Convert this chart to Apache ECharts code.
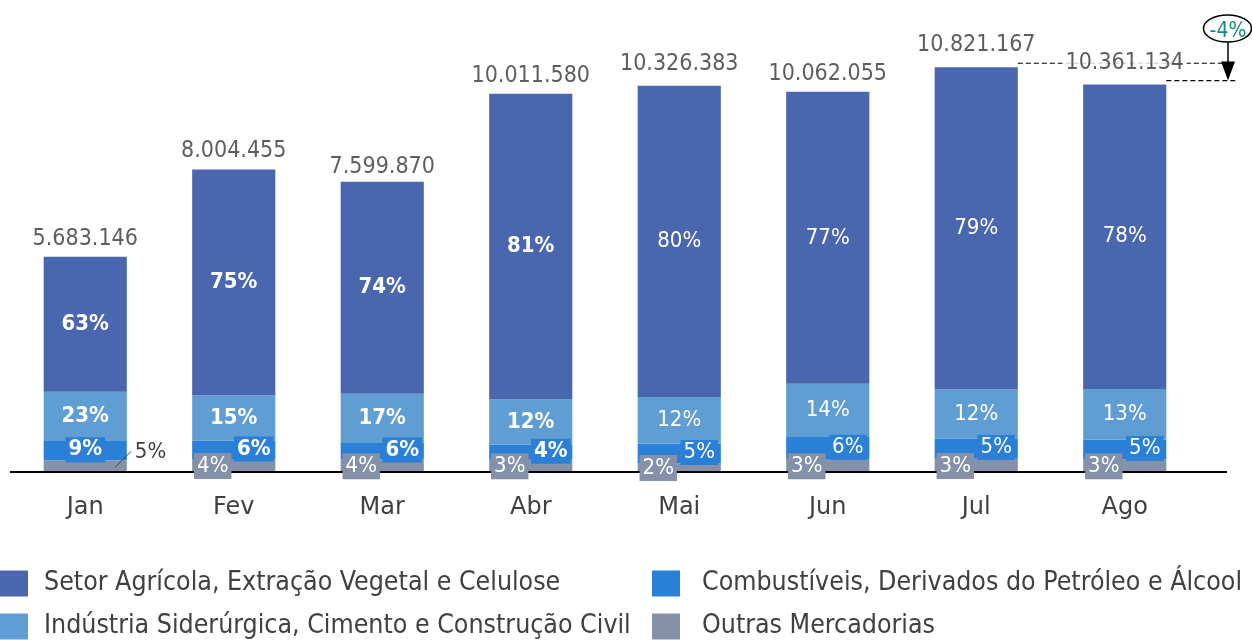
<!DOCTYPE html>
<html>
<head>
<meta charset="utf-8">
<script src="https://cdn.jsdelivr.net/npm/echarts@6/dist/echarts.min.js"></script>
<style>
  html, body { margin: 0; padding: 0; background: #fff; }
  #main { width: 1252px; height: 640px; }
</style>
</head>
<body>
<div id="main"></div>
<script>
const months = ['Jan', 'Fev', 'Mar', 'Abr', 'Mai', 'Jun', 'Jul', 'Ago'];
const totals = [5683146, 8004455, 7599870, 10011580, 10326383, 10062055, 10821167, 10361134];
// shares (%) per month
const setorPct = [63, 75, 74, 81, 80, 77, 79, 78];
const industriaPct = [23, 15, 17, 12, 12, 14, 12, 13];
const combustPct = [9, 6, 6, 4, 5, 6, 5, 5];
const outrasPct = [5, 4, 4, 3, 2, 3, 3, 3];
const boldMonths = [true, true, true, true, false, false, false, false];
const variation = '-4%';

const names = {
  setor: 'Setor Agrícola, Extração Vegetal e Celulose',
  industria: 'Indústria Siderúrgica, Cimento e Construção Civil',
  combust: 'Combustíveis, Derivados do Petróleo e Álcool',
  outras: 'Outras Mercadorias'
};
const colors = { setor: '#4a66ae', industria: '#5f9dd2', combust: '#2a7fd6', outras: '#8591a8' };
const FONT = '"DejaVu Sans Condensed", "DejaVu Sans"';

const fmtTotal = v => String(v).replace(/\B(?=(\d{3})+(?!\d))/g, '.');

function segData(pct) {
  return pct.map((p, i) => ({
    value: totals[i] * p / 100,
    label: { fontWeight: boldMonths[i] ? 'bold' : 'normal' }
  }));
}

const legendBase = {
  orient: 'vertical', top: 570, padding: 0,
  icon: 'rect', itemWidth: 28, itemHeight: 26, itemGap: 16
};

const chart = echarts.init(document.getElementById('main'));

const option = {
  animation: false,
  grid: { left: 11, right: 53, top: 0, bottom: 169, containLabel: false },
  legend: [
    Object.assign({}, legendBase, {
      data: [names.setor, names.industria], left: 0,
      textStyle: { fontFamily: FONT, fontSize: 26.5, color: '#404040', padding: [0, 0, 0, 11] }
    }),
    Object.assign({}, legendBase, {
      data: [names.combust, names.outras], left: 652,
      textStyle: { fontFamily: FONT, fontSize: 26.5, color: '#404040', padding: [0, 0, 0, 17] }
    })
  ],
  xAxis: {
    type: 'category',
    data: months,
    axisLine: { show: false },
    axisTick: { show: false },
    axisLabel: { fontFamily: 'DejaVu Sans', fontSize: 24, color: '#404040', margin: 25 }
  },
  yAxis: {
    type: 'value', show: false, min: 0, max: 12500000,
    splitLine: { show: false }
  },
  series: [
    {
      name: names.outras, type: 'bar', stack: 't', barWidth: '56%',
      itemStyle: { color: colors.outras },
      data: outrasPct.map((p, i) => {
        const d = { value: totals[i] * p / 100 };
        if (i === 0) {
          d.label = {
            position: 'right', distance: 5, offset: [0, -13],
            color: '#404040', backgroundColor: 'transparent'
          };
        }
        return d;
      }),
      label: {
        show: true, position: 'inside', offset: [-21, 1],
        formatter: p => outrasPct[p.dataIndex] + '%',
        fontFamily: FONT, fontSize: 22, color: '#fff',
        backgroundColor: colors.outras, padding: [3, 3, 1, 3]
      }
    },
    {
      name: names.combust, type: 'bar', stack: 't',
      itemStyle: { color: colors.combust },
      data: segData(combustPct).map((d, i) => {
        if (i === 0) d.label.offset = [0, -1];
        return d;
      }),
      label: {
        show: true, position: 'inside', offset: [20, -1],
        formatter: p => combustPct[p.dataIndex] + '%',
        fontFamily: FONT, fontSize: 22, color: '#fff',
        backgroundColor: colors.combust, padding: [2, 3, 1, 3]
      }
    },
    {
      name: names.industria, type: 'bar', stack: 't',
      itemStyle: { color: colors.industria },
      data: segData(industriaPct),
      label: {
        show: true, position: 'inside',
        formatter: p => industriaPct[p.dataIndex] + '%',
        fontFamily: FONT, fontSize: 22, color: '#fff'
      }
    },
    {
      name: names.setor, type: 'bar', stack: 't',
      itemStyle: { color: colors.setor },
      data: segData(setorPct),
      label: {
        show: true, position: 'inside',
        formatter: p => setorPct[p.dataIndex] + '%',
        fontFamily: FONT, fontSize: 22, color: '#fff'
      }
    },
    {
      name: 'Total', type: 'scatter', symbolSize: 1,
      itemStyle: { color: 'rgba(0,0,0,0)' },
      data: totals,
      z: 5,
      label: {
        show: true, position: 'top', distance: 6,
        formatter: p => fmtTotal(p.value),
        fontFamily: FONT, fontSize: 23, color: '#353535',
        backgroundColor: '#fff', padding: [0, 3]
      }
    }
  ]
};

chart.setOption(option);

// axis line, leader line and variation annotation
const p0 = chart.convertToPixel({ gridIndex: 0 }, [0, 0]);
const p1 = chart.convertToPixel({ gridIndex: 0 }, [1, 0]);
const halfBar = (p1[0] - p0[0]) * 0.56 / 2;
const baseY = p0[1];
const janOut = chart.convertToPixel({ gridIndex: 0 }, [0, totals[0] * outrasPct[0] / 100]);
const jul = chart.convertToPixel({ gridIndex: 0 }, [6, totals[6]]);
const ago = chart.convertToPixel({ gridIndex: 0 }, [7, totals[7]]);
const ax = 1228;
const dash = { stroke: '#000', lineWidth: 1.2, lineDash: [5, 3] };

chart.setOption({
  graphic: [
    { type: 'line', z: 1, shape: { x1: 10, y1: baseY + 1, x2: 1227, y2: baseY + 1 }, style: { stroke: '#000', lineWidth: 2 } },
    { type: 'line', z: 10, shape: { x1: p0[0] + 30, y1: baseY - 4, x2: p0[0] + 46, y2: janOut[1] - 9 }, style: { stroke: '#404040', lineWidth: 1 } },
    { type: 'line', z: 0, shape: { x1: jul[0] + halfBar, y1: jul[1], x2: ax - 6, y2: jul[1] }, style: dash },
    { type: 'line', z: 0, shape: { x1: ago[0] + halfBar, y1: ago[1], x2: ax + 10, y2: ago[1] }, style: dash },
    { type: 'line', z: 10, shape: { x1: ax, y1: 42, x2: ax, y2: ago[1] - 17 }, style: { stroke: '#000', lineWidth: 1.5 } },
    { type: 'polygon', z: 10, shape: { points: [[ax - 7, ago[1] - 19], [ax + 7, ago[1] - 19], [ax, ago[1]]] }, style: { fill: '#000' } },
    { type: 'ellipse', z: 10, shape: { cx: ax - 0.5, cy: 28.5, rx: 24, ry: 13.5 }, style: { fill: '#fff', stroke: '#000', lineWidth: 1.5 } },
    { type: 'text', z: 11, x: ax, y: 32, style: { text: variation, fontFamily: FONT, fontSize: 21, fill: '#148a7c', align: 'center', verticalAlign: 'middle' } }
  ]
});
</script>
</body>
</html>
